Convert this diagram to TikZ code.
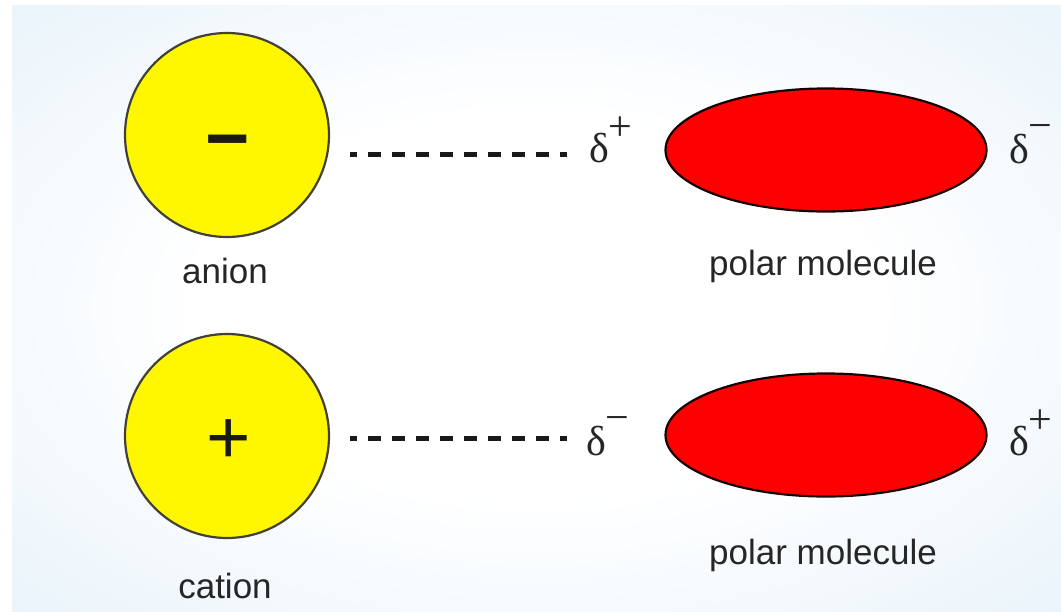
\documentclass[tikz,border=0pt]{standalone}
\usepackage{fontspec}
\setmainfont{Liberation Sans}
\newfontfamily\grkfont{Liberation Serif}
\usetikzlibrary{positioning,shapes.geometric}
\definecolor{ionyel}{RGB}{255,247,0}
\definecolor{molred}{RGB}{255,0,0}
\definecolor{bgblue}{RGB}{219,236,247}
\pgfdeclareradialshading{bgglow}{\pgfpoint{0bp}{0bp}}{color(0bp)=(white); color(16bp)=(white); color(50bp)=(bgblue); color(75bp)=(bgblue)}
\tikzset{
  ion/.style={circle,draw=black!85!yellow,line width=2.2pt,fill=ionyel,minimum size=204pt,inner sep=0pt},
  mol/.style={ellipse,draw=black!90!red,line width=2.2pt,fill=molred,minimum width=321pt,minimum height=123pt,inner sep=0pt},
  sign/.style={anchor=base,inner sep=0pt,text=black!90,font=\fontsize{76}{80}\selectfont},
  lbl/.style={anchor=base,inner sep=0pt,text=black!85,font=\fontsize{35}{38}\selectfont},
  dlt/.style={anchor=base west,inner sep=0pt,text=black!85},
  bond/.style={line width=5pt,black!90,dash pattern=on 13pt off 11pt,dash phase=6pt},
}
\newcommand{\dpos}{{\grkfont\fontsize{42}{44}\selectfont δ\raisebox{21.5pt}{\fontsize{42}{44}\selectfont +}}}
\newcommand{\dneg}{{\grkfont\fontsize{42}{44}\selectfont δ\raisebox{23.5pt}{\fontsize{42}{44}\selectfont −}}}

\begin{document}
\begin{tikzpicture}[x=1pt,y=-1pt]
  \useasboundingbox (0,0) rectangle (1061,611);
  \fill[white] (0,0) rectangle (1061,611);
  \shade[shading=bgglow] (12,5) rectangle (1061,611);
  % ions
  \node[ion] (anion) at (227,135) {};
  \node[ion] (cation) at (227,436) {};
  \node[sign,font=\bfseries\fontsize{76}{80}\selectfont] (minus) at (228,164) {−};
  \node[sign] (plus) at (229,463) {+};
  \node[lbl] (anionlbl) at (225,283) {anion};
  \node[lbl] (cationlbl) at (225,598) {cation};
  % polar molecules
  \node[mol] (molA) at (826,150) {};
  \node[mol] (molB) at (826,435) {};
  \node[lbl] (molAlbl) at (823,275) {polar molecule};
  \node[lbl] (molBlbl) at (823,564) {polar molecule};
  \node[dlt] (dA1) at (589,162) {\dpos};
  \node[dlt] (dA2) at (1009,163) {\dneg};
  \node[dlt] (dB1) at (586,455) {\dneg};
  \node[dlt] (dB2) at (1009,455) {\dpos};
  % ion-dipole attraction
  \coordinate (bA1) at (350,154);
  \coordinate (bA2) at (567,154);
  \coordinate (bB1) at (350,438);
  \coordinate (bB2) at (567,438);
  \draw[bond] (bA1) -- (bA2);
  \draw[bond] (bB1) -- (bB2);
\end{tikzpicture}
\end{document}
